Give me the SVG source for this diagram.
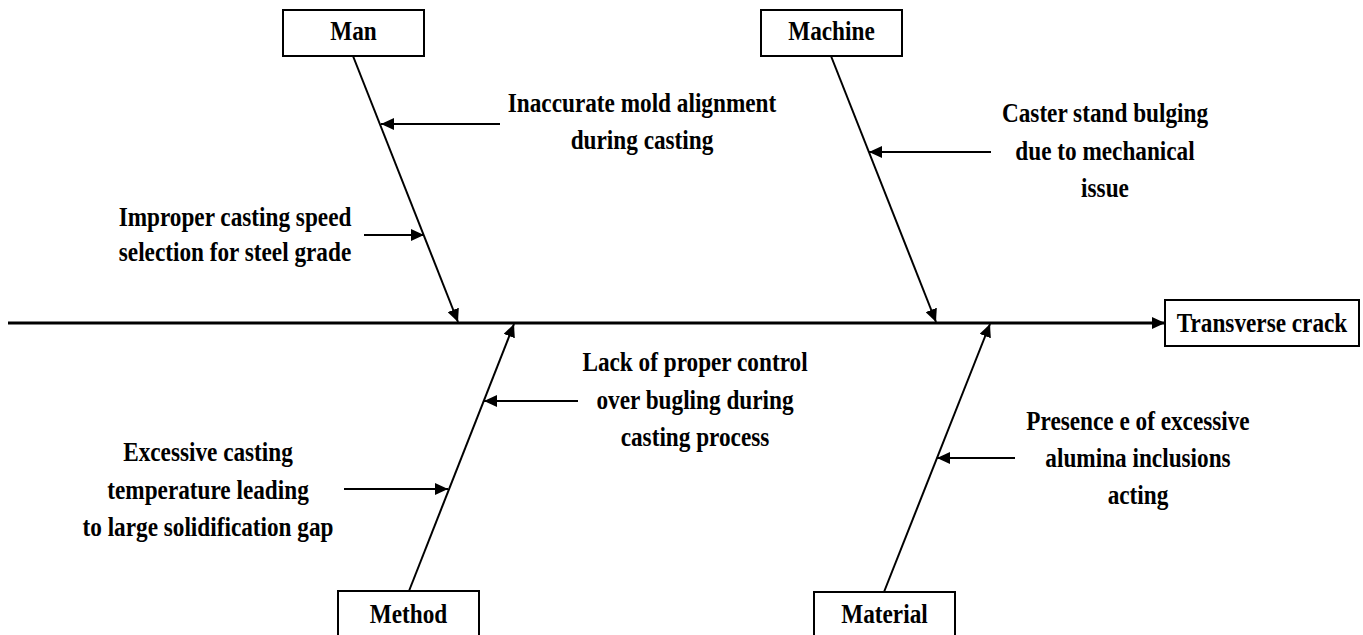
<svg xmlns="http://www.w3.org/2000/svg" width="1363" height="635" viewBox="0 0 1363 635">
  <defs>
    <marker id="arrow" markerUnits="userSpaceOnUse" markerWidth="14" markerHeight="12" refX="13" refY="6" orient="auto">
      <path d="M0,0 L13,6 L0,12 z" fill="#000"/>
    </marker>
    <style>
      .box { fill: #fff; stroke: #000; stroke-width: 2; }
      .lbl { font-family: "Liberation Serif", "Times New Roman", serif; font-weight: bold; font-size: 28px; fill: #000; text-anchor: middle; }
      .bone { stroke: #000; stroke-width: 2; fill: none; }
      .spine { stroke: #000; stroke-width: 3; fill: none; }
    </style>
  </defs>
  <rect width="1363" height="635" fill="#fff"/>

  <!-- connectors: spine, category bones and cause arrows -->
  <g id="connectors">
    <line class="spine" x1="8" y1="323" x2="1165" y2="323" marker-end="url(#arrow)"/>
    <line class="bone" x1="353" y1="56" x2="458" y2="322" marker-end="url(#arrow)"/>
    <line class="bone" x1="831" y1="56" x2="936" y2="322" marker-end="url(#arrow)"/>
    <line class="bone" x1="409" y1="591" x2="514" y2="324" marker-end="url(#arrow)"/>
    <line class="bone" x1="884" y1="592" x2="990" y2="324" marker-end="url(#arrow)"/>
    <line class="bone" x1="500" y1="124" x2="381" y2="124" marker-end="url(#arrow)"/>
    <line class="bone" x1="364" y1="235" x2="424" y2="235" marker-end="url(#arrow)"/>
    <line class="bone" x1="991" y1="152" x2="869" y2="152" marker-end="url(#arrow)"/>
    <line class="bone" x1="578" y1="401" x2="484" y2="401" marker-end="url(#arrow)"/>
    <line class="bone" x1="344" y1="489" x2="448" y2="489" marker-end="url(#arrow)"/>
    <line class="bone" x1="1015" y1="458" x2="937" y2="458" marker-end="url(#arrow)"/>
  </g>

  <!-- category boxes -->
  <g id="man">
    <rect class="box" x="283" y="10" width="141" height="46"/>
    <g transform="translate(353.5,0) scale(0.83,1)"><text class="lbl" x="0" y="40">Man</text></g>
  </g>
  <g id="machine">
    <rect class="box" x="761" y="10" width="141" height="46"/>
    <g transform="translate(831.5,0) scale(0.83,1)"><text class="lbl" x="0" y="40">Machine</text></g>
  </g>
  <g id="method">
    <rect class="box" x="338" y="591" width="141" height="50"/>
    <g transform="translate(408.5,0) scale(0.83,1)"><text class="lbl" x="0" y="623">Method</text></g>
  </g>
  <g id="material">
    <rect class="box" x="814" y="592" width="141" height="50"/>
    <g transform="translate(884.5,0) scale(0.83,1)"><text class="lbl" x="0" y="623">Material</text></g>
  </g>

  <!-- effect -->
  <g id="effect">
    <rect class="box" x="1165" y="300" width="194" height="46"/>
    <g transform="translate(1262,0) scale(0.83,1)"><text class="lbl" x="0" y="332">Transverse crack</text></g>
  </g>

  <!-- causes -->
  <g id="cause-mold-alignment" transform="translate(642,0) scale(0.83,1)">
    <text class="lbl" x="0" y="112">Inaccurate mold alignment</text>
    <text class="lbl" x="0" y="149">during casting</text>
  </g>
  <g id="cause-casting-speed" transform="translate(235,0) scale(0.83,1)">
    <text class="lbl" x="0" y="226">Improper casting speed</text>
    <text class="lbl" x="0" y="261">selection for steel grade</text>
  </g>
  <g id="cause-stand-bulging" transform="translate(1105,0) scale(0.83,1)">
    <text class="lbl" x="0" y="122">Caster stand bulging</text>
    <text class="lbl" x="0" y="160">due to mechanical</text>
    <text class="lbl" x="0" y="197">issue</text>
  </g>
  <g id="cause-bulging-control" transform="translate(695,0) scale(0.83,1)">
    <text class="lbl" x="0" y="371">Lack of proper control</text>
    <text class="lbl" x="0" y="409">over bugling during</text>
    <text class="lbl" x="0" y="446">casting process</text>
  </g>
  <g id="cause-casting-temperature" transform="translate(208,0) scale(0.83,1)">
    <text class="lbl" x="0" y="461">Excessive casting</text>
    <text class="lbl" x="0" y="499">temperature leading</text>
    <text class="lbl" x="0" y="536">to large solidification gap</text>
  </g>
  <g id="cause-alumina" transform="translate(1138,0) scale(0.83,1)">
    <text class="lbl" x="0" y="430">Presence e of excessive</text>
    <text class="lbl" x="0" y="467">alumina inclusions</text>
    <text class="lbl" x="0" y="504">acting</text>
  </g>
</svg>
